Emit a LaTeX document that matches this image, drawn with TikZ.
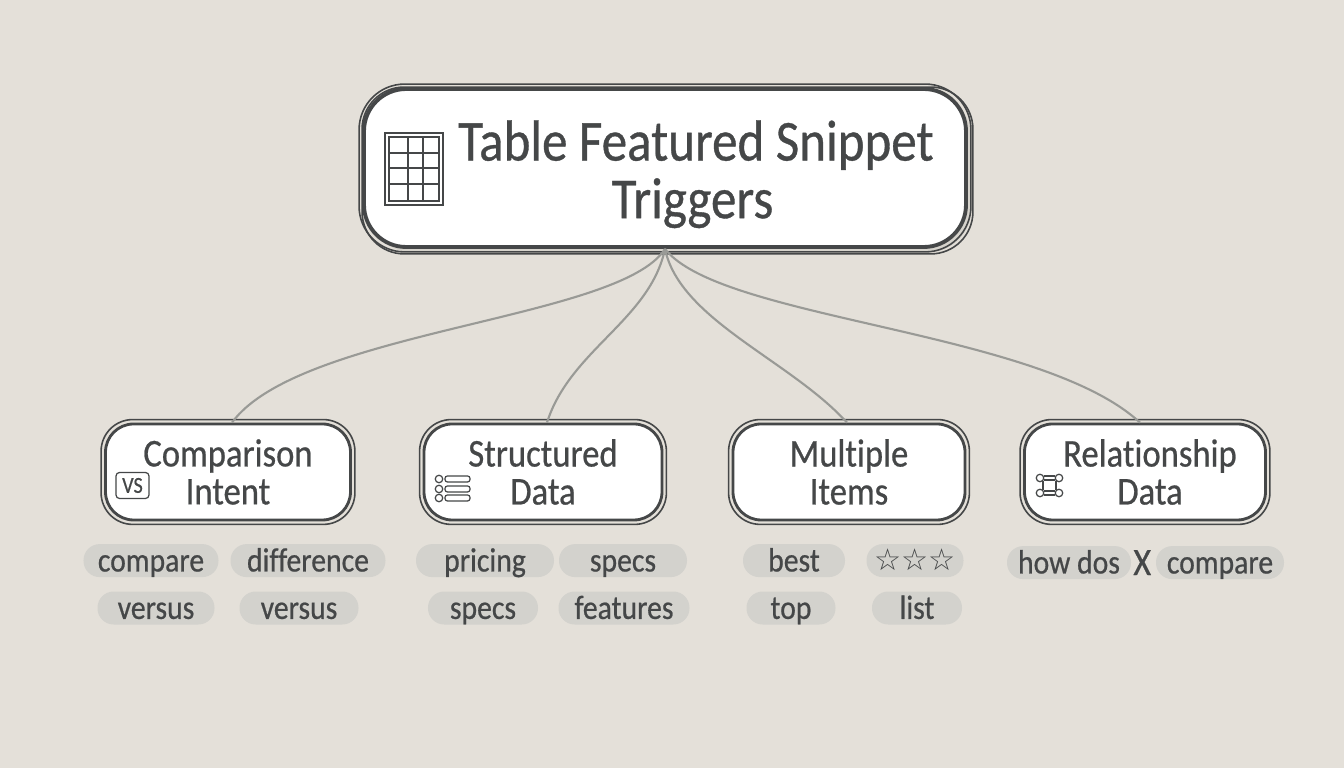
\documentclass[tikz,border=0pt]{standalone}
\usepackage{fontspec}
\setmainfont[FakeStretch=0.88, FakeBold=0.6, Ligatures=NoCommon]{Carlito}
\newfontfamily\symbolfont{DejaVu Sans}
\usetikzlibrary{positioning, arrows.meta, shadows}
\definecolor{paper}{HTML}{E4E0D9}
\definecolor{ink}{HTML}{454748}
\definecolor{chipgrey}{HTML}{D3D2CD}
\definecolor{linkgrey}{HTML}{999A96}
\definecolor{shadowgrey}{HTML}{D6D3CC}

\begin{document}
\begin{tikzpicture}[node distance=0.2cm,
			titlebox/.style={draw=ink, fill=white, line width=1.1pt, rectangle, rounded corners=12pt, minimum width=6.02cm, minimum height=1.58cm, align=center, text=ink, inner sep=0pt, font=\fontsize{16.5}{16.4}\selectfont, drop shadow={shadow xshift=0.05cm, shadow yshift=-0.05cm, fill=shadowgrey, opacity=1}},
			box/.style={draw=ink, fill=white, line width=0.8pt, rectangle, rounded corners=8pt, minimum height=0.96cm, align=center, text=ink, inner sep=0pt, font=\fontsize{11.2}{10.8}\selectfont},
			chip/.style={fill=chipgrey, rectangle, rounded corners=4.6pt, minimum height=0.33cm, text height=7.6pt, text depth=1.4pt, inner xsep=0pt, inner ysep=0pt, text=ink, font=\fontsize{9.6}{10}\selectfont},
			sketch/.style={draw=ink, line width=0.45pt},
			link/.style={draw=linkgrey, line width=0.6pt},
			icon/.style={draw=ink, line width=0.35pt},
			hub/.style={circle, draw=ink, line width=0.35pt, fill=white, minimum size=0.075cm, inner sep=0pt}
			]
			\fill[paper] (0,0) rectangle (13.44,7.68);
			\useasboundingbox (0,0) rectangle (13.44,7.68);
			% main boxes
			\node[titlebox] (title) at (6.65,6.00) {\hspace*{0.62cm}\rule{0pt}{15pt}Table Featured Snippet\\\hspace*{0.55cm}Triggers};
			\node[box, minimum width=2.45cm] (comparison) at (2.28,2.96) {Comparison\\Intent};
			\node[box, minimum width=2.38cm] (structured) at (5.43,2.96) {Structured\\Data};
			\node[box, minimum width=2.32cm] (multiple) at (8.49,2.96) {Multiple\\Items};
			\node[box, minimum width=2.41cm] (relationship) at (11.45,2.96) {\hspace*{0.1cm}Relationship\\\hspace*{0.1cm}Data};
			% second pencil stroke round each box
			\draw[sketch, rounded corners=13pt] ([shift={(-0.03,-0.03)}]title.south west) rectangle ([shift={(0.03,0.03)}]title.north east);
			\draw[sketch, rounded corners=12pt] ([shift={(0.0,-0.05)}]title.south west) rectangle ([shift={(0.05,0.0)}]title.north east);
			\foreach \boxname in {comparison, structured, multiple, relationship} {
				\draw[sketch, rounded corners=9pt] ([shift={(-0.03,-0.03)}]\boxname.south west) rectangle ([shift={(0.03,0.03)}]\boxname.north east);
			}
			% links
			\draw[link] (title.south) .. controls (6.20,4.48) and (3.00,4.38) .. ([xshift=0.04cm]comparison.north);
			\draw[link] (title.south) .. controls (6.50,4.48) and (5.70,4.18) .. ([xshift=0.04cm]structured.north);
			\draw[link] (title.south) .. controls (6.80,4.48) and (7.90,4.08) .. ([xshift=-0.02cm]multiple.north);
			\draw[link] (title.south) .. controls (7.20,4.48) and (10.40,4.38) .. ([xshift=-0.05cm]relationship.north);
			% chips
			\node[chip, minimum width=1.35cm, below=0.22cm of comparison, xshift=-0.77cm] (compare) {compare};
			\node[chip, minimum width=1.55cm, below=0.22cm of comparison, xshift=0.80cm] (difference) {difference};
			\node[chip, minimum width=1.17cm, below=0.13cm of compare, xshift=0.05cm] (versusa) {versus};
			\node[chip, minimum width=1.19cm, below=0.13cm of difference, xshift=-0.09cm] (versusb) {versus};
			\node[chip, minimum width=1.38cm, below=0.22cm of structured, xshift=-0.58cm] (pricing) {pricing};
			\node[chip, minimum width=1.28cm, below=0.22cm of structured, xshift=0.80cm] (specsa) {specs};
			\node[chip, minimum width=1.10cm, below=0.13cm of pricing, xshift=-0.02cm] (specsb) {specs};
			\node[chip, minimum width=1.31cm, below=0.13cm of specsa, xshift=0.01cm] (features) {features};
			\node[chip, minimum width=1.02cm, below=0.22cm of multiple, xshift=-0.55cm] (best) {best};
			\node[chip, minimum width=0.97cm, below=0.22cm of multiple, xshift=0.66cm, text height=7.2pt, text depth=1.5pt, font=\symbolfont\fontsize{8.6}{10}\selectfont] (stars) {☆☆☆};
			\node[chip, minimum width=0.89cm, below=0.13cm of best, xshift=-0.03cm] (top) {top};
			\node[chip, minimum width=0.90cm, below=0.13cm of stars, xshift=0.02cm] (list) {list};
			\node[chip, minimum width=1.24cm, below=0.24cm of relationship, xshift=-0.76cm] (howdos) {how dos};
			\node[chip, minimum width=1.28cm, below=0.24cm of relationship, xshift=0.75cm] (comparerel) {compare};
			\node[text=ink, inner sep=0pt, font=\fontsize{11}{11}\selectfont, right=0.01cm of howdos] (xmark) {X};
			% table icon
			\draw[icon, line width=0.5pt] (3.85,5.63) rectangle (4.43,6.35);
			\draw[icon] (3.89,5.67) rectangle (4.39,6.31);
			\foreach \gridx in {4.08,4.23} {
				\draw[icon] (\gridx,5.68) -- (\gridx,6.31);
			}
			\foreach \gridy in {5.84,6.00,6.15} {
				\draw[icon] (3.89,\gridy) -- (4.39,\gridy);
			}
			% vs icon
			\node[icon, rectangle, rounded corners=1pt, minimum width=0.33cm, minimum height=0.26cm, inner sep=0pt, text=ink, font=\fontsize{6.5}{7}\selectfont] (vsicon) at (1.325,2.825) {VS};
			% list icon
			\foreach \rowy/\rowname in {2.89/a, 2.79/b, 2.70/c} {
				\node[hub, fill=none] (dot\rowname) at (4.39,\rowy) {};
				\draw[icon, rounded corners=0.7pt] (4.45,\rowy-0.03) rectangle (4.70,\rowy+0.03);
			}
			% network icon
			\node[hub] (hubtl) at (10.40,2.90) {};
			\node[hub] (hubtr) at (10.59,2.90) {};
			\node[hub] (hubbl) at (10.40,2.75) {};
			\node[hub] (hubbr) at (10.59,2.75) {};
			\draw[icon] ([yshift=0.02cm]hubtl.east) -- ([yshift=0.02cm]hubtr.west);
			\draw[icon] ([yshift=-0.02cm]hubtl.east) -- ([yshift=-0.02cm]hubtr.west);
			\draw[icon] ([yshift=0.02cm]hubbl.east) -- ([yshift=0.02cm]hubbr.west);
			\draw[icon] ([yshift=-0.02cm]hubbl.east) -- ([yshift=-0.02cm]hubbr.west);
			\draw[icon] (hubtl.south east) -- (hubbl.north east);
			\draw[icon] (hubtr.south west) -- (hubbr.north west);
		\end{tikzpicture}
\end{document}
